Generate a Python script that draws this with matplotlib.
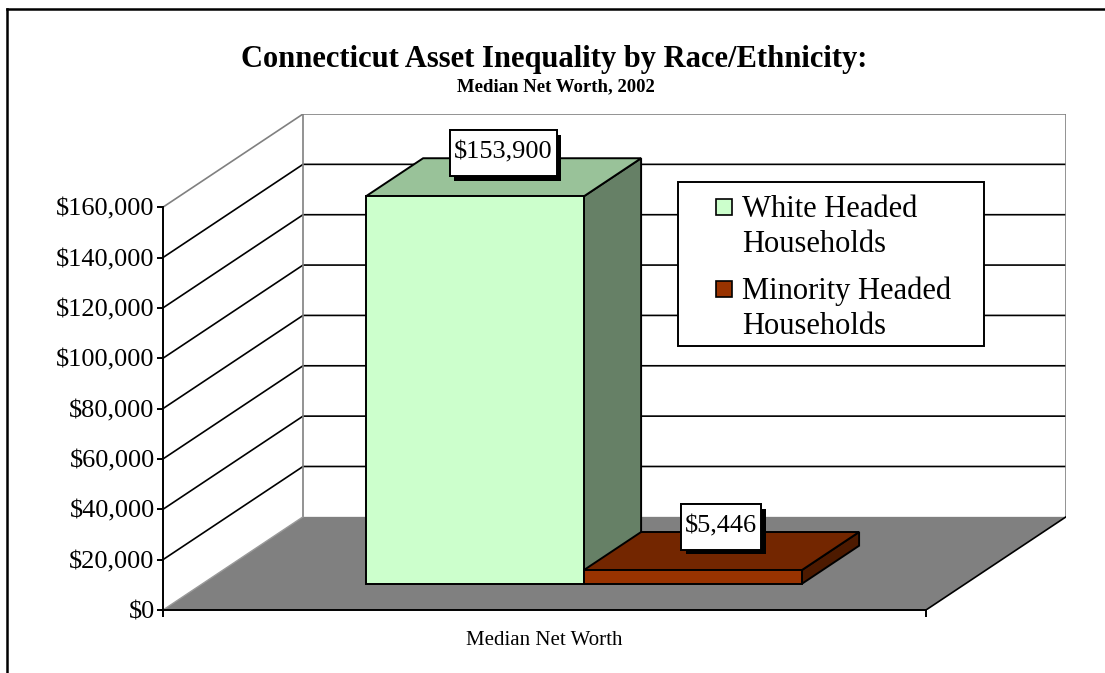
import matplotlib
matplotlib.use("Agg")
import matplotlib.pyplot as plt
from matplotlib.patches import Polygon, Rectangle, Patch
from matplotlib.lines import Line2D
from matplotlib.path import Path
from matplotlib.legend_handler import HandlerPatch
from matplotlib.ticker import FuncFormatter
import matplotlib.patheffects as pe

plt.rcParams['font.family'] = ['Liberation Serif', 'DejaVu Serif']

title = "Connecticut Asset Inequality by Race/Ethnicity:"
subtitle = "Median Net Worth, 2002"
category = "Median Net Worth"
series = ["White Headed\nHouseholds", "Minority Headed\nHouseholds"]
values = [153900, 5446]
front_colors = ["#CCFFCC", "#993300"]
top_colors = ["#99C299", "#732600"]
side_colors = ["#668066", "#4D1A00"]
yticks = [0, 20000, 40000, 60000, 80000, 100000, 120000, 140000, 160000]

YMAX = 160000
DX = 0.1835      # depth offset along x (category units)
DY = 37000       # depth offset along y (dollars)
GAP = 0.2143     # gap each side of the cluster
BAR_W = (1 - 2 * GAP) / len(values)
Z0, Z1 = 0.28, 0.69


def proj(x, y, z):
    return (x + z * DX, y + z * DY)


def box_path(x0, y0, width, height, left, bottom, right, top):
    a, b = x0 - left, y0 - bottom
    c, d = x0 + width + right, y0 + height + top
    return Path([(a, b), (c, b), (c, d), (a, d), (a, b)], closed=True)


def label_box(x0, y0, width, height, mutation_size):
    # wide vertical padding, narrow horizontal padding
    px, py = 0.15 * mutation_size, 0.45 * mutation_size
    return box_path(x0, y0, width, height, px, py, px, py)


def legend_box(x0, y0, width, height, mutation_size):
    # trim the bottom padding of the legend frame
    return box_path(x0, y0, width, height, 0, -0.26 * mutation_size, 0, 0)


fig = plt.figure(figsize=(11.05, 6.73), dpi=100)
W, H = 1105, 673
ax = fig.add_axes([163 / W, (H - 610) / H, (1066 - 163) / W, (610 - 114) / H])
ax.set_xlim(0, 1 + DX)
ax.set_ylim(0, YMAX + DY)

grey = "#808080"

# walls
ax.add_patch(Polygon([proj(0, 0, 0), proj(0, 0, 1), proj(0, YMAX, 1), proj(0, YMAX, 0)],
                     closed=True, facecolor="white", edgecolor="none", zorder=0))
ax.add_patch(Polygon([proj(0, 0, 1), proj(1, 0, 1), proj(1, YMAX, 1), proj(0, YMAX, 1)],
                     closed=True, facecolor="white", edgecolor="none", zorder=0))

for v in yticks[1:-1]:
    a, b, c = proj(0, v, 0), proj(0, v, 1), proj(1, v, 1)
    ax.plot([a[0], b[0], c[0]], [a[1], b[1], c[1]], color="black", lw=1.2, zorder=1)

# wall outline
pts = [proj(0, YMAX, 0), proj(0, YMAX, 1), proj(1, YMAX, 1), proj(1, 0, 1)]
ax.plot([p[0] for p in pts], [p[1] for p in pts], color=grey, lw=1.2, zorder=1)
p1, p2 = proj(0, 0, 1), proj(0, YMAX, 1)
ax.plot([p1[0], p2[0]], [p1[1], p2[1]], color=grey, lw=1.2, zorder=1)

# floor
floor = [proj(0, 0, 0), proj(1, 0, 0), proj(1, 0, 1), proj(0, 0, 1)]
ax.add_patch(Polygon(floor, closed=True, facecolor=grey, edgecolor="none", zorder=2))
a, b = proj(1, 0, 0), proj(1, 0, 1)
ax.plot([a[0], b[0]], [a[1], b[1]], color="black", lw=1.2, zorder=2)
a, b = proj(0, 0, 0), proj(0, 0, 1)
ax.plot([a[0], b[0]], [a[1], b[1]], color="#9a9a9a", lw=1.0, zorder=2)

# bars
for i, v in enumerate(values):
    x0 = GAP + i * BAR_W
    x1 = x0 + BAR_W
    front = [proj(x0, 0, Z0), proj(x1, 0, Z0), proj(x1, v, Z0), proj(x0, v, Z0)]
    side = [proj(x1, 0, Z0), proj(x1, 0, Z1), proj(x1, v, Z1), proj(x1, v, Z0)]
    top = [proj(x0, v, Z0), proj(x1, v, Z0), proj(x1, v, Z1), proj(x0, v, Z1)]
    for poly, col in ((side, side_colors[i]), (top, top_colors[i]), (front, front_colors[i])):
        ax.add_patch(Polygon(poly, closed=True, facecolor=col, edgecolor="black",
                             lw=1.4, joinstyle="miter", zorder=3 + i))

    lx, ly = proj((x0 + x1) / 2, v, (Z0 + Z1) / 2)
    t = ax.annotate(f"${v:,.0f}", xy=(lx, ly), xytext=(0, 9.7), textcoords="offset points",
                    ha="center", va="bottom", fontsize=19, zorder=10,
                    bbox=dict(boxstyle=label_box, facecolor="white",
                              edgecolor="black", lw=1.4))
    t.get_bbox_patch().set_path_effects([
        pe.withSimplePatchShadow(offset=(3, -3.5), shadow_rgbFace="black", alpha=1.0),
        pe.Normal()])

# axes styling
for s in ("top", "right"):
    ax.spines[s].set_visible(False)
ax.spines["left"].set_bounds(0, YMAX)
ax.spines["bottom"].set_bounds(0, 1)
for s in ("left", "bottom"):
    ax.spines[s].set_linewidth(1.4)
    ax.spines[s].set_zorder(6)
ax.set_yticks(yticks)
ax.yaxis.set_major_formatter(FuncFormatter(lambda v, _: f"${v:,.0f}"))
ax.tick_params(axis="y", direction="out", length=4, width=1.4, labelsize=19, pad=2)
ax.set_xticks([0, 1])
ax.set_xticklabels(["", ""])
ax.set_xticks([0.5], minor=True)
ax.set_xticklabels([category], minor=True)
ax.tick_params(axis="x", which="major", direction="out", length=5, width=1.4)
ax.tick_params(axis="x", which="minor", length=0, labelsize=15, pad=15)


class TopSquare(HandlerPatch):
    # square beside the first line of a two-line label, pushed to the right
    def create_artists(self, legend, orig_handle, xdescent, ydescent, width, height,
                       fontsize, trans):
        s = 0.52 * fontsize
        r = Rectangle((-xdescent + width - s, 0.75 * fontsize), s, s,
                      facecolor=orig_handle.get_facecolor(), edgecolor="black", lw=1.2)
        r.set_transform(trans)
        return [r]


handles = [Patch(facecolor=c, edgecolor="black") for c in front_colors]
leg = fig.legend(handles, series, loc="upper left", mode="expand",
                 bbox_to_anchor=(678 / W, (H - 346) / H, 306 / W, 164 / H), fontsize=22,
                 frameon=True, fancybox=False, framealpha=1, edgecolor="black",
                 handlelength=1.34, handleheight=0.55, handletextpad=0.33,
                 borderpad=0.42, labelspacing=0.55, borderaxespad=0,
                 handler_map={Patch: TopSquare()})
leg.get_frame().set_linewidth(1.4)
leg.get_frame().set_boxstyle(legend_box)
leg.set_zorder(20)
for t in leg.get_texts():
    t.set_linespacing(1.3)

fig.text(554 / W, 1 - 60 / H, title, ha="center", va="center", fontsize=22, fontweight="bold")
fig.text(556 / W, 1 - 87 / H, subtitle, ha="center", va="center", fontsize=13.5, fontweight="bold")

# chart border
fig.add_artist(Line2D([7 / W, 1], [1 - 9 / H, 1 - 9 / H], color="black", lw=1.8))
fig.add_artist(Line2D([7 / W, 7 / W], [0, 1 - 9 / H], color="black", lw=1.8))

fig.savefig("out.png", dpi=100)
